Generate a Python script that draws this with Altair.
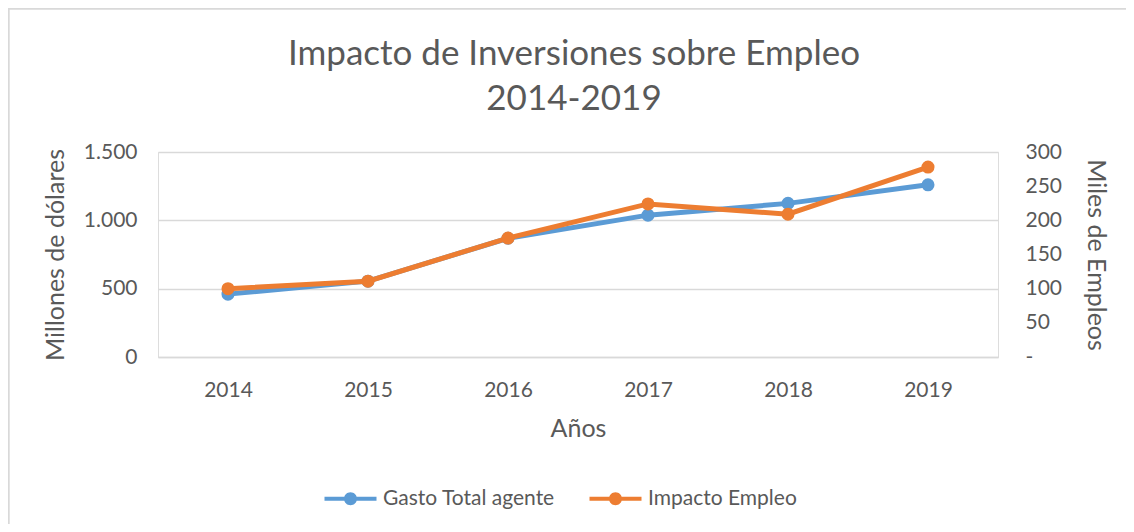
import altair as alt
import pandas as pd

years = ["2014", "2015", "2016", "2017", "2018", "2019"]
gasto = [460, 555, 869, 1038, 1124, 1260]
empleo = [100, 111, 174, 224, 209, 278]
series = ["Gasto Total agente", "Impacto Empleo"]
colors = ["#5B9BD5", "#ED7D31"]
title_lines = ["Impacto de Inversiones sobre Empleo", "2014-2019"]

df = pd.DataFrame({"year": years, "gasto": gasto, "empleo": empleo})

FONT = "Lato"
GREY = "#595959"

color = alt.Color(
    "serie:N",
    scale=alt.Scale(domain=series, range=colors),
    legend=alt.Legend(
        title=None,
        orient="none",
        legendX=182,
        legendY=336,
        direction="horizontal",
        symbolType="M-4,-0.32 L4,-0.32 L4,0.32 L-4,0.32 Z M-1,0 A1,1 0 1,1 1,0 A1,1 0 1,1 -1,0 Z",
        symbolSize=169,
        symbolStrokeWidth=0,
        labelOffset=22,
        labelFontSize=21,
        labelLimit=400,
        labelColor=GREY,
        labelFont=FONT,
        columnPadding=34,
    ),
)

x = alt.X(
    "year:N",
    sort=years,
    scale=alt.Scale(paddingInner=0, paddingOuter=0.0),
    axis=alt.Axis(
        title="Años",
        titleFontSize=25,
        titleFontWeight="normal",
        titleColor=GREY,
        titleFont=FONT,
        titlePadding=16,
        labelAngle=0,
        labelFontSize=21,
        labelColor=GREY,
        labelFont=FONT,
        labelPadding=22,
        ticks=False,
        domain=True,
        domainColor="#d9d9d9",
        domainWidth=1.5,
        grid=False,
    ),
)

base = alt.Chart(df)

blue_y = alt.Y(
    "gasto:Q",
    scale=alt.Scale(domain=[0, 1500]),
    axis=alt.Axis(
        title="Millones de dólares",
        values=[0, 500, 1000, 1500],
        format=",d",
        labelExpr="replace(datum.label, ',', '.')",
        titleFontSize=25,
        titleFontWeight="normal",
        titleColor=GREY,
        titleFont=FONT,
        titlePadding=15,
        labelFontSize=21,
        labelColor=GREY,
        labelFont=FONT,
        labelPadding=21,
        ticks=False,
        domain=False,
        grid=True,
        gridColor="#d9d9d9",
        gridWidth=1.5,
    ),
)

orange_y = alt.Y(
    "empleo:Q",
    scale=alt.Scale(domain=[0, 300]),
    axis=alt.Axis(
        orient="right",
        title="Miles de Empleos",
        values=[0, 50, 100, 150, 200, 250, 300],
        labelExpr="datum.value == 0 ? '-' : datum.label",
        titleFontSize=25,
        titleFontWeight="normal",
        titleColor=GREY,
        titleFont=FONT,
        titlePadding=21,
        labelFontSize=21,
        labelColor=GREY,
        labelFont=FONT,
        labelPadding=27,
        ticks=False,
        domain=False,
        grid=False,
    ),
)

blue = base.transform_calculate(serie="'Gasto Total agente'").mark_line(
    strokeWidth=5,
    point=alt.OverlayMarkDef(filled=True, size=170, opacity=1),
).encode(x=x, y=blue_y, color=color)

orange = base.transform_calculate(serie="'Impacto Empleo'").mark_line(
    strokeWidth=5,
    point=alt.OverlayMarkDef(filled=True, size=170, opacity=1),
).encode(x=x, y=orange_y, color=color)

one = pd.DataFrame({"a": [0]})

border_top = alt.Chart(one).mark_rule(
    color="#d9d9d9", strokeWidth=2, clip=False
).encode(x=alt.value(-150), x2=alt.value(968), y=alt.value(-143.3))

border_left = alt.Chart(one).mark_rule(
    color="#d9d9d9", strokeWidth=2, clip=False
).encode(x=alt.value(-149.3), y=alt.value(-144), y2=alt.value(372))

title1 = alt.Chart(one).mark_text(
    text=title_lines[0], font=FONT, fontSize=35, color=GREY, align="center", baseline="middle"
).encode(x=alt.value(416), y=alt.value(-98))

title2 = alt.Chart(one).mark_text(
    text=title_lines[1], font=FONT, fontSize=35, color=GREY, align="center", baseline="middle"
).encode(x=alt.value(416), y=alt.value(-53))

chart = (
    alt.layer(border_top, border_left, title1, title2, blue, orange)
    .resolve_scale(y="independent")
    .properties(
        width=840,
        height=205,
        padding={"left": 150, "top": 144, "right": 128, "bottom": 167},
        autosize=alt.AutoSizeParams(type="none"),
    )
    .configure_view(stroke=None)
    .configure(background="white")
)

chart.save("out.html", embed_options={"renderer": "svg", "actions": False})
